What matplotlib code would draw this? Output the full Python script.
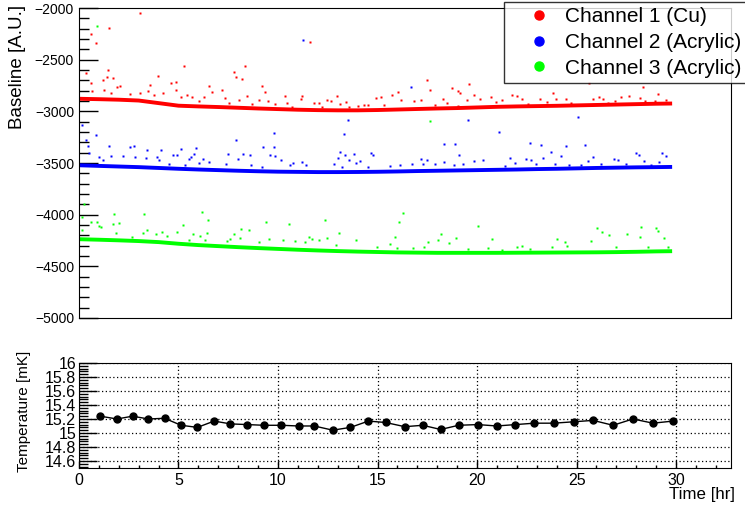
import matplotlib.pyplot as plt
from matplotlib.lines import Line2D
from matplotlib.ticker import MultipleLocator, FuncFormatter

plt.rcParams['font.family'] = ['Liberation Sans', 'DejaVu Sans']

# baseline trend of each channel (dense band), read every hour
band_t = [0, 1, 2, 3, 4, 5, 6, 7, 8, 9, 10, 11, 12, 13, 14, 15, 16, 17, 18, 19,
          20, 21, 22, 23, 24, 25, 26, 27, 28, 29, 29.8]
ch1_band = [-2878, -2882, -2887, -2895, -2920, -2945, -2952, -2958, -2965, -2972,
            -2978, -2984, -2988, -2990, -2990, -2987, -2982, -2977, -2972, -2968,
            -2962, -2956, -2952, -2949, -2946, -2942, -2938, -2934, -2930, -2926, -2924]
ch2_band = [-3522, -3528, -3534, -3540, -3548, -3556, -3563, -3569, -3575, -3580,
            -3584, -3586, -3588, -3588, -3587, -3585, -3582, -3578, -3575, -3572,
            -3569, -3566, -3563, -3559, -3556, -3552, -3548, -3545, -3542, -3540, -3538]
ch3_band = [-4238, -4243, -4249, -4256, -4266, -4282, -4295, -4305, -4315, -4324,
            -4332, -4340, -4347, -4353, -4358, -4362, -4366, -4368, -4370, -4370,
            -4370, -4370, -4369, -4368, -4367, -4366, -4365, -4363, -4360, -4356, -4354]

# spread points away from the band
ch1_t = [3.09, 1.52, 0.62, 0.87, 1.45, 0.33, 1.42, 1.69, 1.2, 3.96, 4.61, 4.86, 0.6, 2.07,
         3.55, 1.89, 1.25, 3.48, 4.23, 4.88, 2.54, 3.09, 0.67, 3.76, 1.59,
         5.27, 7.79, 8.36, 7.91, 8.19, 9.21, 9.33, 6.55, 7.21, 6.69, 8.43, 5.45, 5.68, 6.27,
         7.32, 5.15, 9.06, 9.49, 8.02, 6.02, 7.52, 8.69, 9.86,
         11.62, 10.33, 11.23, 11.13, 12.97, 14.93, 10.43, 11.79, 12.05, 12.45, 12.64, 13.44,
         13.11, 14.34, 14.51, 13.59, 10.7, 12.2, 14.04,
         17.47, 19.61, 17.64, 18.76, 19.06, 19.14, 16.01, 15.75, 19.87, 15.15, 16.18, 17.19,
         18.29, 19.49, 16.82, 15.31, 17.89, 18.47, 19.02,
         23.82, 20.7, 22.03, 21.77, 20.14, 21.23, 22.28, 23.15, 23.99, 24.46, 23.49, 20.96,
         22.57, 24.74,
         25.63, 28.35, 29.09, 26.13, 27.63, 27.25, 28.18, 25.81, 28.95, 26.31, 26.91, 29.5,
         28.42, 26.58]
ch1_v = [-2051, -2190, -2248, -2336, -2600, -2626, -2665, -2677, -2700, -2658, -2729, -2716,
         -2726, -2752, -2748, -2768, -2794, -2800, -2819, -2797, -2835, -2819, -2800, -2842, -2826,
         -2558, -2619, -2561, -2671, -2687, -2758, -2816, -2755, -2797, -2813, -2852, -2842,
         -2864, -2858, -2874, -2858, -2890, -2897, -2890, -2897, -2922, -2932, -2929,
         -2326, -2852, -2852, -2881, -2855, -2871, -2916, -2916, -2916, -2890, -2900, -2913,
         -2929, -2939, -2936, -2955, -2961, -2955, -2951,
         -2700, -2732, -2794, -2774, -2800, -2819, -2816, -2839, -2842, -2864, -2887, -2887,
         -2884, -2893, -2897, -2939, -2942, -2922, -2948,
         -2823, -2861, -2852, -2845, -2878, -2890, -2881, -2881, -2884, -2878, -2906, -2906,
         -2929, -2916,
         -2729, -2768, -2832, -2864, -2855, -2864, -2871, -2878, -2897, -2881, -2903, -2890,
         -2900, -2922]

ch2_t = [0.13, 0.84, 0.37, 0.47, 1.5, 2.56, 2.77, 3.43, 4.13, 0.5, 4.73, 4.9, 2.19, 1.62,
         2.84, 1.0, 3.39, 3.93, 1.2, 4.01, 4.51,
         9.81, 7.89, 9.23, 9.78, 5.9, 5.12, 7.47, 8.22, 8.59, 5.77, 5.62, 9.58, 9.83, 5.52,
         7.99, 6.22, 6.52, 7.39, 5.35, 6.03, 8.66, 9.19,
         11.28, 13.5, 13.3, 13.09, 13.0, 13.37, 13.83, 14.68, 14.78, 13.58, 14.14, 13.93,
         14.54, 11.22, 10.77, 10.58, 11.42, 10.13, 12.79, 13.21,
         16.68, 19.52, 18.36, 18.89, 19.09, 17.17, 17.49, 19.86, 16.72, 15.65, 16.13, 17.27,
         18.36, 19.31, 17.89, 18.86,
         21.1, 22.65, 23.2, 24.46, 23.69, 24.21, 21.65, 23.32, 22.48, 22.73, 20.3, 21.93,
         23.9, 24.61, 22.98, 21.4,
         25.08, 25.44, 27.98, 29.29, 28.16, 29.49, 25.84, 26.87, 27.08, 28.37, 29.14, 25.58,
         26.21, 27.5, 28.75, 25.24]
ch2_v = [-3135, -3226, -3277, -3332, -3335, -3342, -3332, -3374, -3374, -3406, -3420, -3420,
         -3429, -3435, -3439, -3445, -3452, -3442, -3471, -3471, -3507,
         -3207, -3274, -3342, -3345, -3355, -3367, -3410, -3410, -3420, -3413, -3439, -3426,
         -3432, -3458, -3461, -3461, -3490, -3507, -3516, -3497, -3522, -3542,
         -2307, -3081, -3219, -3394, -3452, -3423, -3413, -3400, -3423, -3474, -3484, -3503,
         -3536, -3490, -3500, -3522, -3516, -3471, -3513, -3542,
         -2768, -3087, -3313, -3313, -3426, -3464, -3474, -3481, -3507, -3526, -3522, -3513,
         -3487, -3510, -3513, -3522,
         -3197, -3310, -3326, -3335, -3397, -3429, -3448, -3448, -3461, -3468, -3474, -3503,
         -3510, -3516, -3510, -3526,
         -3052, -3329, -3406, -3403, -3426, -3432, -3439, -3464, -3471, -3484, -3490, -3484,
         -3507, -3513, -3516, -3519]

ch3_t = [0.92, 0.25, 0.17, 1.74, 3.26, 0.6, 0.89, 2.0, 1.7, 1.0, 1.09, 0.13, 3.43, 3.23,
         4.18, 4.95, 3.85, 1.84, 4.43, 2.68,
         6.2, 6.47, 9.39, 5.25, 8.16, 8.53, 7.77, 6.42, 5.75, 6.1, 9.56, 8.07, 7.6, 5.52,
         6.32, 7.44, 9.03,
         12.37, 10.57, 13.07, 10.23, 10.87, 11.57, 12.07, 12.45, 13.93, 11.37, 11.7, 12.92, 14.98,
         17.65, 16.3, 16.1, 20.03, 18.2, 15.88, 18.05, 18.92, 17.55, 18.61, 15.63, 17.32,
         15.96, 16.8, 19.56,
         24.0, 20.75, 24.42, 24.54, 22.03, 22.28, 23.74, 22.65, 20.56, 21.23,
         28.23, 29.0, 26.03, 27.55, 26.63, 28.2, 29.09, 29.39, 26.29, 25.74, 29.59, 26.99, 28.59]
ch3_v = [-2171, -3897, -4026, -3990, -3994, -4071, -4068, -4078, -4090, -4110, -4119, -4148,
         -4148, -4174, -4164, -4171, -4187, -4180, -4206, -4213,
         -3971, -4052, -4071, -4100, -4142, -4145, -4184, -4174, -4190, -4206, -4232, -4223,
         -4232, -4245, -4245, -4252, -4265,
         -4052, -4090, -4180, -4242, -4252, -4219, -4242, -4229, -4245, -4261, -4239, -4293, -4316,
         -3094, -3981, -4071, -4110, -4190, -4213, -4245, -4226, -4265, -4277, -4284, -4316,
         -4326, -4326, -4335,
         -4232, -4239, -4265, -4300, -4310, -4303, -4316, -4332, -4326, -4342,
         -4119, -4129, -4129, -4190, -4197, -4216, -4158, -4229, -4171, -4255, -4310, -4310, -4316]

# mixing chamber temperature
temp_t = [1.07, 1.91, 2.69, 3.49, 4.30, 5.13, 5.95, 6.79, 7.61, 8.46, 9.28, 10.17, 11.03,
          11.82, 12.75, 13.64, 14.54, 15.40, 16.37, 17.27, 18.17, 19.07, 20.04, 20.99,
          21.93, 22.88, 23.85, 24.86, 25.83, 26.83, 27.83, 28.84, 29.84]
temp_v = [15.24, 15.20, 15.24, 15.20, 15.21, 15.11, 15.08, 15.17, 15.13, 15.12, 15.11, 15.11,
          15.10, 15.10, 15.04, 15.08, 15.17, 15.15, 15.09, 15.11, 15.05, 15.11, 15.12, 15.10,
          15.12, 15.14, 15.14, 15.16, 15.18, 15.11, 15.20, 15.14, 15.17]

labels = ['Channel 1 (Cu)', 'Channel 2 (Acrylic)', 'Channel 3 (Acrylic)']
colors = ['#ff0000', '#0000ff', '#00ff00']

fig = plt.figure(figsize=(7.45, 5.07), dpi=100)
ax = fig.add_axes([0.106, 0.373, 0.875, 0.611])
ax2 = fig.add_axes([0.106, 0.077, 0.875, 0.207])

bands = [ch1_band, ch2_band, ch3_band]
spreads = [(ch1_t, ch1_v), (ch2_t, ch2_v), (ch3_t, ch3_v)]
for band, (st, sv), c in zip(bands, spreads, colors):
    ax.plot(band_t, band, color=c, lw=2.8, solid_capstyle='butt')
    ax.plot(st, sv, ls='none', marker='s', ms=1.8, mec='none', mfc=c)

ax.set_xlim(0, 32.75)
ax.set_ylim(-5000, -2000)
ax.yaxis.set_major_locator(MultipleLocator(500))
ax.yaxis.set_minor_locator(MultipleLocator(100))
ax.tick_params(axis='y', which='major', direction='in', length=14, width=1, labelsize=10)
ax.tick_params(axis='y', which='minor', direction='in', length=7, width=1)
ax.tick_params(axis='x', which='both', bottom=False, labelbottom=False)
fig.text(18 / 745, 1 - 5 / 507, 'Baseline [A.U.]', rotation=90, ha='center', va='top',
         fontsize=13.5)

handles = [Line2D([], [], ls='none', marker='o', ms=6.5, mfc=c, mec=c) for c in colors]
leg = fig.legend(handles, labels, loc='upper left', bbox_to_anchor=(504 / 745, 1 - 2 / 507),
                 fontsize=15, frameon=True, fancybox=False, borderpad=0.25, labelspacing=0.32,
                 handlelength=2.87, handletextpad=-0.19, borderaxespad=0)
leg.get_frame().set_edgecolor('black')
leg.get_frame().set_linewidth(1.0)

ax2.plot(temp_t, temp_v, color='black', lw=1, marker='o', ms=5, mfc='black', mec='black')
ax2.set_xlim(0, 32.75)
ax2.set_ylim(14.5, 16)
ax2.yaxis.set_major_locator(MultipleLocator(0.2))
ax2.yaxis.set_minor_locator(MultipleLocator(0.04))
ax2.xaxis.set_major_locator(MultipleLocator(5))
ax2.xaxis.set_minor_locator(MultipleLocator(1))
ax2.yaxis.set_major_formatter(FuncFormatter(lambda v, p: f'{v:g}'))
ax2.grid(True, which='major', color='black', ls=(0, (1, 2)), lw=0.9)
ax2.tick_params(axis='y', which='major', direction='in', length=13, width=1, labelsize=11.5, pad=2)
ax2.tick_params(axis='y', which='minor', direction='in', length=6.5, width=1)
ax2.tick_params(axis='x', which='major', direction='in', length=5, width=1, labelsize=11.5)
ax2.tick_params(axis='x', which='minor', direction='in', length=2.5, width=1)
fig.text(24 / 745, 1 - 411 / 507, 'Temperature [mK]', rotation=90, ha='center', va='center',
         fontsize=11)
fig.text(735 / 745, 1 - 494 / 507, 'Time [hr]', ha='right', va='center', fontsize=12.2)

fig.savefig('out.png', dpi=100)
